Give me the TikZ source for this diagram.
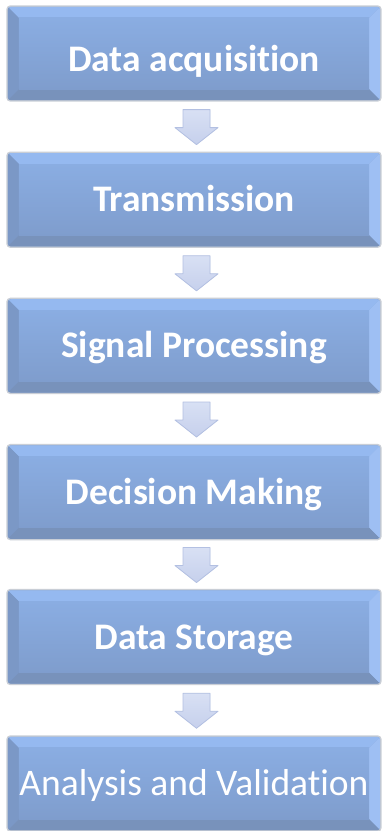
\documentclass[tikz,border=0pt]{standalone}
\usepackage{fontspec}
\setmainfont{Carlito}[Ligatures=NoCommon]
\usetikzlibrary{calc,backgrounds}

% palette of the bevelled stage boxes
\definecolor{faceTop}{HTML}{8AADE2}
\definecolor{faceBot}{HTML}{7F9DCD}
\definecolor{bevTop}{HTML}{95B9F0}
\definecolor{bevLeft}{HTML}{7B98C6}
\definecolor{bevRight}{HTML}{9EBFF3}
\definecolor{bevBot}{HTML}{7892BB}
\definecolor{halo}{HTML}{C9CED6}
% palette of the down arrows
\definecolor{arrFill}{HTML}{C6D0EC}
\definecolor{arrEdge}{HTML}{B3C0E2}
\definecolor{arrLight}{HTML}{D8E0F4}

\tikzset{
  stage/.style={rectangle, minimum width=372pt, minimum height=93pt,
    inner sep=0pt, text=white, text height=24pt, text depth=0pt,
    font=\fontsize{37.5}{42}\selectfont\bfseries},
  stageplain/.style={stage, font=\fontsize{37.5}{42}\selectfont},
  downarrow/.style={fill=arrFill, draw=arrEdge, line width=0.8pt, line join=round}
}

% bevelled background for a named stage node
\newcommand{\bevelstage}[1]{%
  \begin{scope}[on background layer]
    \fill[halo, rounded corners=4pt]
      ($(#1.north west)+(-1.5pt,1.5pt)$) rectangle ($(#1.south east)+(1.5pt,-1.5pt)$);
    \fill[faceBot, rounded corners=3pt] (#1.north west) rectangle (#1.south east);
    \begin{scope}
      \clip[rounded corners=3pt] (#1.north west) rectangle (#1.south east);
      \fill[bevTop] (#1.north west) -- (#1.north east)
        -- ($(#1.north east)+(-11pt,-11pt)$) -- ($(#1.north west)+(11pt,-11pt)$) -- cycle;
      \fill[bevLeft] (#1.north west) -- ($(#1.north west)+(11pt,-11pt)$)
        -- ($(#1.south west)+(11pt,11pt)$) -- (#1.south west) -- cycle;
      \fill[bevRight] (#1.north east) -- ($(#1.north east)+(-11pt,-11pt)$)
        -- ($(#1.south east)+(-11pt,11pt)$) -- (#1.south east) -- cycle;
      \fill[bevBot] (#1.south west) -- ($(#1.south west)+(11pt,11pt)$)
        -- ($(#1.south east)+(-11pt,11pt)$) -- (#1.south east) -- cycle;
      \shade[top color=faceTop, bottom color=faceBot]
        ($(#1.north west)+(11pt,-11pt)$) rectangle ($(#1.south east)+(-11pt,11pt)$);
    \end{scope}
  \end{scope}}

% block arrow pointing down, centred between two named stages
\newcommand{\downblock}[2]{%
  \coordinate (m) at ($(#1.south)!0.5!(#2.north)+(2.5pt,0)$);
  \path[downarrow, top color=arrLight, bottom color=arrFill]
    ($(m)+(-13.5pt,17pt)$) -- ($(m)+(13.5pt,17pt)$) -- ($(m)+(13.5pt,-1pt)$)
    -- ($(m)+(21.5pt,-1pt)$) -- ($(m)+(0pt,-18pt)$) -- ($(m)+(-21.5pt,-1pt)$)
    -- ($(m)+(-13.5pt,-1pt)$) -- cycle;}

\begin{document}
\begin{tikzpicture}
  \useasboundingbox (0,0) rectangle (383pt,-831pt);
  \begin{scope}[on background layer]
    \fill[white] (0,0) rectangle (383pt,-831pt);
  \end{scope}

  \node[stage, text height=36pt] (s1) at (194pt,-53.5pt)  {Data acquisition};
  \node[stage] (s2) at (194pt,-199.7pt) {Transmission};
  \node[stage] (s3) at (194pt,-345.9pt) {Signal Processing};
  \node[stage] (s4) at (194pt,-492.1pt) {Decision Making};
  \node[stage] (s5) at (194pt,-637pt) {Data Storage};
  \node[stageplain] (s6) at (194pt,-783.5pt) {Analysis and Validation};

  \bevelstage{s1}\bevelstage{s2}\bevelstage{s3}
  \bevelstage{s4}\bevelstage{s5}\bevelstage{s6}

  \downblock{s1}{s2}
  \downblock{s2}{s3}
  \downblock{s3}{s4}
  \downblock{s4}{s5}
  \downblock{s5}{s6}
\end{tikzpicture}
\end{document}
